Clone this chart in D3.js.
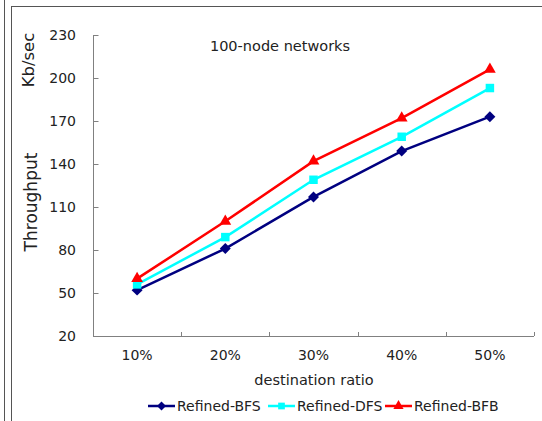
<!DOCTYPE html>
<html><head><meta charset="utf-8">
<script src="https://cdn.jsdelivr.net/npm/d3@7"></script>
<style>body{margin:0;background:#fff;}svg{display:block;}</style>
</head><body>
<svg id="c" width="542" height="421"></svg>
<script>
const categories = ["10%", "20%", "30%", "40%", "50%"];
const bfs = [52, 81, 117, 149, 173];
const dfs = [56, 89, 129, 159, 193];
const bfb = [60, 100, 142, 172, 206];
const yTicks = [20, 50, 80, 110, 140, 170, 200, 230];
const seriesNames = ["Refined-BFS", "Refined-DFS", "Refined-BFB"];
const colors = ["#000080", "#00FFFF", "#FF0000"];

const diamond = { draw(ctx, size) { const r = Math.sqrt(size / 2); ctx.moveTo(0, -r); ctx.lineTo(r, 0); ctx.lineTo(0, r); ctx.lineTo(-r, 0); ctx.closePath(); } };
const symbols = [diamond, d3.symbolSquare, d3.symbolTriangle];
const symSizes = [60, 72, 60];

const svg = d3.select("#c");
const font = "DejaVu Sans, Verdana, sans-serif";
const textColor = "#222";

// frame lines
svg.append("line").attr("x1",4.5).attr("x2",4.5).attr("y1",0).attr("y2",421).attr("stroke","#555").attr("stroke-width",1);
svg.append("line").attr("x1",11.5).attr("x2",11.5).attr("y1",6).attr("y2",421).attr("stroke","#555").attr("stroke-width",1);
svg.append("line").attr("x1",11.5).attr("x2",542).attr("y1",6.5).attr("y2",6.5).attr("stroke","#555").attr("stroke-width",1);

const x0 = 93, x1 = 534, yTop = 35, yBot = 336;
const x = d3.scaleBand().domain(categories).range([x0, x1]);
const y = d3.scaleLinear().domain([20, 230]).range([yBot, yTop]);

// y axis
const ya = svg.append("g").attr("transform", `translate(${x0 + 0.5},0)`)
  .call(d3.axisRight(y).tickValues(yTicks).tickSize(5).tickFormat(""));
ya.select(".domain").attr("stroke", "#808080").attr("d", `M0,${yTop}V${yBot}`);
ya.selectAll(".tick line").attr("stroke", "#808080");
svg.append("g").selectAll("text").data(yTicks).join("text")
  .attr("x", 76).attr("y", d => y(d)).attr("dy", "0.36em")
  .attr("text-anchor", "end").attr("font-family", font).attr("font-size", 14)
  .attr("fill", textColor).text(d => d);

// x axis
const xa = svg.append("g").attr("transform", `translate(0,${yBot + 0.5})`)
  .call(d3.axisTop(x).tickSize(0).tickFormat(""));
xa.select(".domain").attr("stroke", "#808080").attr("d", `M${x0},0H${x1}`);
const bounds = categories.map(c => x(c) + x.bandwidth());
svg.append("g").selectAll("line").data(bounds).join("line")
  .attr("x1", d => Math.round(d) + 0.5).attr("x2", d => Math.round(d) + 0.5)
  .attr("y1", yBot - 4).attr("y2", yBot).attr("stroke", "#808080");
svg.append("g").selectAll("text").data(categories).join("text")
  .attr("x", d => x(d) + x.bandwidth() / 2).attr("y", 360)
  .attr("text-anchor", "middle").attr("font-family", font).attr("font-size", 14)
  .attr("fill", textColor).text(d => d);

// axis titles
svg.append("text").attr("x", 280).attr("y", 51).attr("text-anchor", "middle")
  .attr("font-family", font).attr("font-size", 14.5).attr("fill", textColor).text("100-node networks");
svg.append("text").attr("x", 314).attr("y", 385).attr("text-anchor", "middle")
  .attr("font-family", font).attr("font-size", 14.5).attr("fill", textColor).text("destination ratio");
svg.append("text").attr("transform", "translate(37,202) rotate(-90)").attr("text-anchor", "middle")
  .attr("font-family", font).attr("font-size", 17).attr("fill", textColor).text("Throughput");
svg.append("text").attr("transform", "translate(34,60) rotate(-90)").attr("text-anchor", "middle")
  .attr("font-family", font).attr("font-size", 16.5).attr("fill", textColor).text("Kb/sec");

// series
const data = [bfs, dfs, bfb];
const line = d3.line().x((d, i) => x(categories[i]) + x.bandwidth() / 2).y(d => y(d));
data.forEach((s, k) => {
  svg.append("path").datum(s).attr("d", line).attr("fill", "none")
    .attr("stroke", colors[k]).attr("stroke-width", 2.5);
  svg.append("g").selectAll("path").data(s).join("path")
    .attr("transform", (d, i) => `translate(${x(categories[i]) + x.bandwidth() / 2},${y(d)})`)
    .attr("d", d3.symbol().type(symbols[k]).size(symSizes[k]))
    .attr("fill", colors[k]);
});

// legend
const legX = [148, 268, 385];
seriesNames.forEach((n, k) => {
  const g = svg.append("g").attr("transform", `translate(${legX[k]},406)`);
  g.append("line").attr("x1", 0).attr("x2", 27).attr("y1", 0).attr("y2", 0)
    .attr("stroke", colors[k]).attr("stroke-width", 2.5);
  g.append("path").attr("transform", "translate(13.5,0)")
    .attr("d", d3.symbol().type(symbols[k]).size(k === 0 ? 40 : 45)).attr("fill", colors[k]);
  g.append("text").attr("x", 29).attr("y", 0).attr("dy", "0.36em")
    .attr("font-family", font).attr("font-size", 14).attr("fill", textColor).text(n);
});
</script>
</body></html>
